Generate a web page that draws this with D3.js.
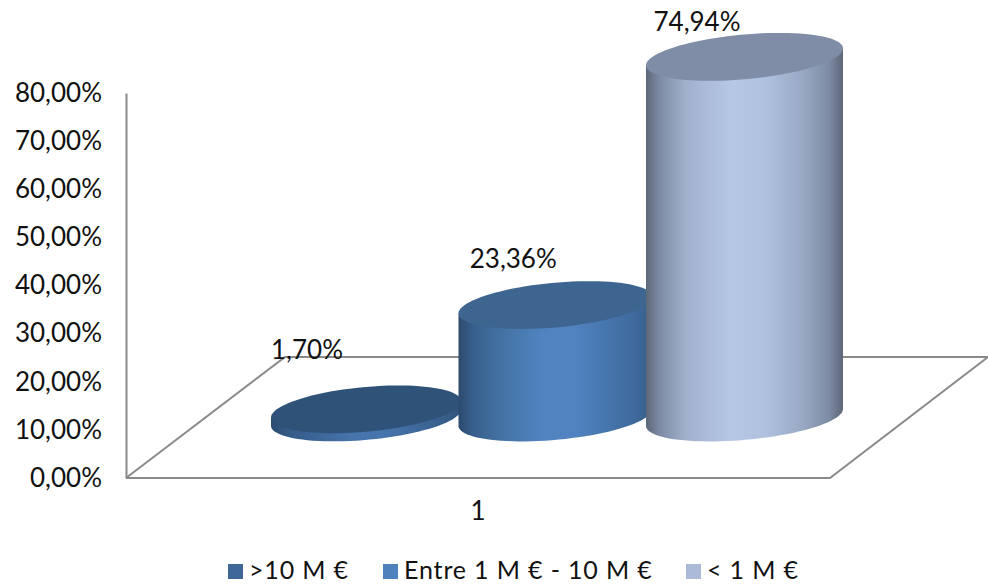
<!DOCTYPE html>
<html>
<head>
<meta charset="utf-8">
<script src="https://cdn.jsdelivr.net/npm/d3@7"></script>
<style>
    html, body { margin: 0; padding: 0; background: #fff; }
    text { font-family: "Lato", sans-serif; font-weight: 400; fill: #111; }
</style>
</head>
<body>
<div id="chart"></div>
<script>
const categories = [">10 M €", "Entre 1 M € - 10 M €", "< 1 M €"]
const values = [1.70, 23.36, 74.94]
const valueLabels = ["1,70%", "23,36%", "74,94%"]
const axisTicks = [0, 10, 20, 30, 40, 50, 60, 70, 80]
const axisCategory = "1"

const width = 988
const height = 584
const fontSize = 26
const floorDepth = 60.5   // base of the columns sits this far behind the front edge
const shear = -0.086      // tilt of the ellipses
const ellipseB = 22.4

const svg = d3.select("#chart").append("svg")
    .attr("width", width)
    .attr("height", height)
    .style("display", "block")

const defs = svg.append("defs")

// scales
const yScale = d3.scaleLinear().domain([0, 80]).range([478, 93])
const xCenter = d3.scalePoint().domain(categories).range([366, 744.5])
const xRadius = d3.scaleLinear().domain([0, 2]).range([95, 98.5])

// floor
const floorLine = d3.line()
svg.append("path")
    .attr("d", floorLine([[126, yScale(0)], [830, yScale(0)], [988, 357], [285, 357], [126, yScale(0)]]))
    .attr("fill", "none")
    .attr("stroke", "#8a8a8a")
    .attr("stroke-width", 2)

// y axis
const yAxis = d3.axisLeft(yScale)
    .tickValues(axisTicks)
    .tickSize(0)
    .tickPadding(24)
    .tickFormat(d => d3.format(".2f")(d).replace(".", ",") + "%")

const axisG = svg.append("g")
    .attr("transform", "translate(126,0)")
    .call(yAxis)
axisG.select(".domain").attr("stroke", "#8a8a8a").attr("stroke-width", 2)
axisG.selectAll("text")
    .style("font-size", fontSize + "px")
    .style("font-family", "Lato")

svg.append("text")
    .attr("x", 478)
    .attr("y", 511)
    .attr("dy", "0.35em")
    .attr("text-anchor", "middle")
    .style("font-size", fontSize + "px")
    .text(axisCategory)

// columns
const gradients = [
    { stops: [[0, "#2c4a6e"], [0.08, "#345a86"], [0.43, "#4674ac"], [0.6, "#4674ac"], [0.9, "#38608e"], [1, "#2f5279"]], top: "#2f5278" },
    { stops: [[0, "#2c4a6e"], [0.08, "#38608e"], [0.2, "#42709f"], [0.43, "#5083c0"], [0.6, "#5083c0"], [0.9, "#3f6b9e"], [1, "#375e8a"]], top: "#3e6590" },
    { stops: [[0, "#5c6778"], [0.07, "#7d8ba4"], [0.2, "#a0b0cc"], [0.43, "#b6c7e5"], [0.6, "#b0c2e0"], [0.8, "#98a8c4"], [0.93, "#7d8ba3"], [1, "#5c6778"]], top: "#7f8da6" }
]

gradients.forEach((g, i) => {
    const grad = defs.append("linearGradient")
        .attr("id", "side-" + i)
        .attr("x1", 0).attr("x2", 1).attr("y1", 0).attr("y2", 0)
    grad.selectAll("stop")
        .data(g.stops)
        .join("stop")
        .attr("offset", d => d[0])
        .attr("stop-color", d => d[1])
})

const ellipsePoint = (cx, cy, a, t) => [
    cx + a * Math.cos(t),
    cy + ellipseB * Math.sin(t) + shear * a * Math.cos(t)
]
const ringAngles = d3.range(0, 361, 4).map(d => d * Math.PI / 180)
const halfAngles = d3.range(0, 181, 4).map(d => d * Math.PI / 180)

const columns = svg.selectAll(".column")
    .data(categories)
    .join("g")
    .attr("class", "column")

columns.each(function(cat, i) {
    const g = d3.select(this)
    const cx = xCenter(cat)
    const a = xRadius(i)
    const yBase = yScale(0) - floorDepth
    const yTop = yScale(values[i]) - floorDepth

    const side = halfAngles.map(t => ellipsePoint(cx, yBase, a, t))
    const topEdge = ellipsePoint(cx, yTop, a, Math.PI)
    const topEdge2 = ellipsePoint(cx, yTop, a, 0)

    g.append("path")
        .attr("d", floorLine([topEdge2, ...side, topEdge]) + "Z")
        .attr("fill", `url(#side-${i})`)

    g.append("path")
        .attr("d", floorLine(ringAngles.map(t => ellipsePoint(cx, yTop, a, t))) + "Z")
        .attr("fill", gradients[i].top)
})

// value labels sit where the chart's author left them, not at a fixed offset
const labelOffsets = [[-59, -59], [-42, -46.5], [-47.5, -34.5]]
svg.selectAll(".value-label")
    .data(categories)
    .join("text")
    .attr("class", "value-label")
    .attr("x", (d, i) => xCenter(d) + labelOffsets[i][0])
    .attr("y", (d, i) => yScale(values[i]) - floorDepth + labelOffsets[i][1])
    .attr("dy", "0.35em")
    .attr("text-anchor", "middle")
    .style("font-size", fontSize + "px")
    .text((d, i) => valueLabels[i])

// legend
const legendX = [228, 383, 686]
const legendColors = ["#3e6797", "#4f81bd", "#aabad7"]
const legend = svg.selectAll(".legend-item")
    .data(categories)
    .join("g")
    .attr("class", "legend-item")
    .attr("transform", (d, i) => `translate(${legendX[i]},578.5)`)

legend.append("rect")
    .attr("y", -14.5)
    .attr("width", 15)
    .attr("height", 15)
    .attr("fill", (d, i) => legendColors[i])

legend.append("text")
    .attr("x", 21)
    .style("font-size", "25px")
    .style("letter-spacing", "0.85px")
    .text(d => d)
</script>
</body>
</html>
